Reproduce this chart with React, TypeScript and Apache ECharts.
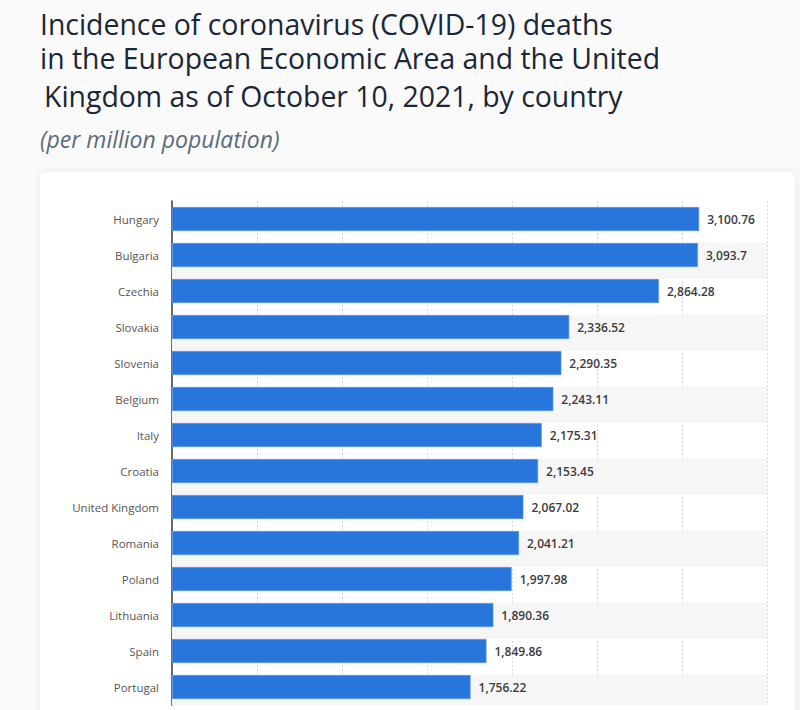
import React, { useEffect, useRef } from "react";
import * as echarts from "echarts";

const countries = [
  "Hungary",
  "Bulgaria",
  "Czechia",
  "Slovakia",
  "Slovenia",
  "Belgium",
  "Italy",
  "Croatia",
  "United Kingdom",
  "Romania",
  "Poland",
  "Lithuania",
  "Spain",
  "Portugal",
];

const deathsPerMillion = [
  3100.76, 3093.7, 2864.28, 2336.52, 2290.35, 2243.11, 2175.31, 2153.45,
  2067.02, 2041.21, 1997.98, 1890.36, 1849.86, 1756.22,
];

const titleLines = [
  "Incidence of coronavirus (COVID-19) deaths",
  "in the European Economic Area and the United",
  "Kingdom as of October 10, 2021, by country",
];
const subtitle = "(per million population)";

const fmt = (v: number) =>
  v.toLocaleString("en-US", { maximumFractionDigits: 2 });

export default function App() {
  const ref = useRef<HTMLDivElement>(null);

  useEffect(() => {
    if (!ref.current) return;
    const chart = echarts.init(ref.current, null, { renderer: "svg" });
    const font = "'Open Sans', sans-serif";
    // striped band behind every other row
    const stripes = countries.map((_, i) => (i % 2 === 1 ? 1 : 0));

    const titleText = (
      text: string,
      x: number,
      y: number,
      f: string,
      fill: string,
      lineHeight: number
    ) => ({
      type: "text",
      x,
      y,
      style: { text, font: f, fill, lineHeight, textVerticalAlign: "middle" },
    });

    chart.setOption({
      animation: false,
      backgroundColor: "#fafafb",
      graphic: [
        {
          type: "rect",
          shape: { x: 40, y: 172, width: 755, height: 560, r: 6 },
          style: {
            fill: "#ffffff",
            shadowBlur: 8,
            shadowColor: "rgba(0,0,0,0.08)",
          },
          z: -10,
        },
        titleText(titleLines[0], 40, 24, `28.4px ${font}`, "#1b2736", 30),
        titleText(titleLines[1], 40, 58, `28.4px ${font}`, "#1b2736", 30),
        titleText(titleLines[2], 44, 96, `28.4px ${font}`, "#1b2736", 30),
        titleText(subtitle, 40, 139, `italic 23px ${font}`, "#5b6b7c", 26),
      ],
      grid: { left: 172, right: 33, top: 201, bottom: 5, containLabel: false },
      xAxis: [
        {
          type: "value",
          min: 0,
          max: 3500,
          interval: 500,
          axisLabel: { show: false },
          axisLine: { show: false },
          axisTick: { show: false },
          splitLine: {
            show: true,
            lineStyle: { color: "#d9d9d9", type: [2, 2], width: 1 },
          },
        },
        {
          type: "value",
          min: 0,
          max: 1,
          show: false,
        },
      ],
      yAxis: {
        type: "category",
        data: countries,
        inverse: true,
        axisLine: { show: true, lineStyle: { color: "#3a3a3a", width: 1.5 } },
        axisTick: { show: false },
        axisLabel: {
          color: "#555",
          fontSize: 11.5,
          fontFamily: font,
          margin: 13,
        },
        splitLine: { show: false },
      },
      series: [
        {
          type: "bar",
          xAxisIndex: 1,
          data: stripes,
          barWidth: "100%",
          barGap: "-100%",
          itemStyle: { color: "#f6f6f6" },
          silent: true,
          z: 0,
        },
        {
          type: "bar",
          data: deathsPerMillion,
          barWidth: 24,
          itemStyle: {
            color: "#2876dc",
            borderColor: "#5c9be9",
            borderWidth: 0.6,
          },
          label: {
            show: true,
            position: "right",
            distance: 8,
            formatter: (p: any) => fmt(p.value),
            color: "#3b3b3b",
            fontSize: 12,
            fontWeight: 600,
            fontFamily: font,
          },
          z: 2,
        },
      ],
    });

    return () => chart.dispose();
  }, []);

  return (
    <div
      ref={ref}
      style={{ position: "fixed", left: 0, top: 0, width: 800, height: 710 }}
    />
  );
}
